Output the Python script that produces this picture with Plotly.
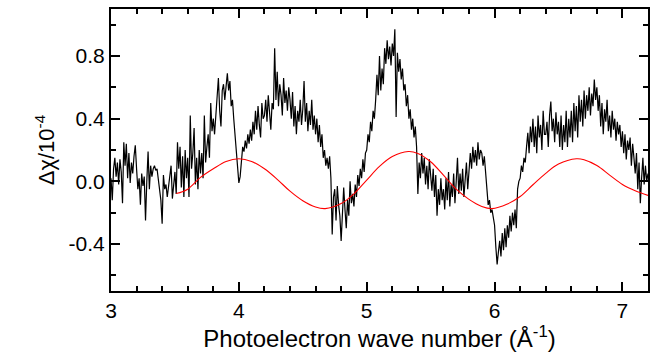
import numpy as np
import plotly.graph_objects as go

# Measured difference signal (black), sampled every 0.01 1/A from 3.00 to 7.20
k_start, k_stop = 3.0, 7.2
measured_dchi = [
    0.02, -0.12, 0.08, 0.15, 0.03, 0.12, -0.02, 0.14, 0.06, -0.14,   # 3.0
    0.25, 0.10, 0.24, 0.02, 0.18, -0.01, 0.12, 0.05, 0.16, 0.23,     # 3.1
    0.08, -0.05, 0.02, -0.15, 0.05, -0.03, 0.03, -0.25, 0.0, 0.19,   # 3.2
    -0.05, 0.10, 0.03, 0.08, 0.10, 0.07, 0.08, 0.02, -0.03, -0.12,   # 3.3
    -0.27, 0.04, -0.05, -0.02, -0.10, -0.04, 0.02, 0.10, -0.11, 0.0, # 3.4
    0.06, -0.08, 0.25, 0.08, 0.22, -0.04, 0.16, -0.10, 0.20, 0.02,   # 3.5
    0.15, -0.10, 0.42, 0.08, 0.18, 0.34, -0.02, 0.15, -0.05, 0.20,   # 3.6
    0.05, 0.18, 0.02, 0.42, 0.12, 0.22, 0.30, 0.15, 0.50, 0.32,      # 3.7
    0.40, 0.30, 0.42, 0.55, 0.66, 0.45, 0.35, 0.58, 0.62, 0.52,      # 3.8
    0.62, 0.69, 0.58, 0.64, 0.48, 0.52, 0.40, 0.30, 0.18, 0.05,      # 3.9
    -0.01, 0.03, 0.12, 0.22, 0.19, 0.26, 0.21, 0.30, 0.24, 0.33,     # 4.0
    0.26, 0.38, 0.30, 0.45, 0.33, 0.48, 0.36, 0.28, 0.50, 0.40,      # 4.1
    0.42, 0.52, 0.38, 0.55, 0.44, 0.33, 0.50, 0.46, 0.85, 0.52,      # 4.2
    0.70, 0.48, 0.62, 0.55, 0.42, 0.66, 0.50, 0.58, 0.45, 0.60,      # 4.3
    0.52, 0.40, 0.57, 0.35, 0.48, 0.30, 0.45, 0.38, 0.52, 0.36,      # 4.4
    0.46, 0.64, 0.38, 0.50, 0.32, 0.45, 0.36, 0.52, 0.33, 0.42,      # 4.5
    0.30, 0.40, 0.25, 0.36, 0.22, 0.30, 0.15, 0.20, 0.10, 0.15,      # 4.6
    0.08, 0.16, 0.02, -0.34, -0.10, -0.05, -0.25, -0.03, -0.15, -0.22,  # 4.7
    -0.38, -0.20, -0.04, -0.18, -0.30, -0.12, -0.22, 0.0, -0.14, -0.08, # 4.8
    -0.16, -0.02, -0.10, 0.04, -0.03, 0.08, 0.02, 0.14, 0.06, 0.18,  # 4.9
    0.20, 0.30, 0.25, 0.38, 0.32, 0.45, 0.40, 0.52, 0.68, 0.55,      # 5.0
    0.80, 0.58, 0.72, 0.62, 0.85, 0.75, 0.90, 0.78, 0.86, 0.74,      # 5.1
    0.88, 0.80, 0.97, 0.41, 0.82, 0.70, 0.78, 0.65, 0.72, 0.58,      # 5.2
    0.62, 0.48, 0.55, 0.40, 0.46, 0.33, 0.40, 0.28, 0.35, 0.22,      # 5.3
    -0.08, 0.12, 0.02, 0.18, 0.05, 0.15, -0.02, 0.10, -0.05, 0.14,   # 5.4
    0.02, -0.06, 0.08, -0.10, 0.04, -0.22, -0.05, -0.15, 0.02, -0.12,  # 5.5
    -0.05, -0.18, 0.02, -0.12, 0.06, -0.16, -0.02, -0.10, 0.05, -0.14, # 5.6
    0.0, 0.15, -0.08, 0.05, -0.06, 0.08, -0.10, 0.02, 0.12, -0.05,   # 5.7
    0.05, 0.18, 0.08, 0.22, 0.12, 0.20, 0.10, 0.25, 0.14, 0.20,      # 5.8
    0.18, 0.10, 0.16, 0.05, -0.08, -0.15, -0.12, -0.20, -0.18, -0.25,  # 5.9
    -0.28, -0.42, -0.53, -0.45, -0.38, -0.48, -0.33, -0.44, -0.30, -0.42,  # 6.0
    -0.28, -0.36, -0.22, -0.32, -0.20, -0.28, -0.18, -0.30, -0.05, 0.0,    # 6.1
    0.02, 0.10, 0.06, 0.15, 0.12, 0.22, 0.31, 0.18, 0.35, 0.25,      # 6.2
    0.40, 0.22, 0.35, 0.18, 0.42, 0.28, 0.36, 0.20, 0.45, 0.30,      # 6.3
    0.30, 0.38, 0.22, 0.42, 0.51, 0.32, 0.40, 0.25, 0.44, 0.30,      # 6.4
    0.38, 0.22, 0.42, 0.20, 0.36, 0.25, 0.45, 0.22, 0.40, 0.28,      # 6.5
    0.45, 0.25, 0.50, 0.32, 0.48, 0.28, 0.55, 0.38, 0.52, 0.35,      # 6.6
    0.58, 0.40, 0.55, 0.45, 0.60, 0.42, 0.56, 0.48, 0.65, 0.52,      # 6.7
    0.60, 0.45, 0.55, 0.35, 0.50, 0.30, 0.46, 0.38, 0.52, 0.32,      # 6.8
    0.42, 0.28, 0.45, 0.33, 0.40, 0.26, 0.38, 0.30, 0.36, 0.22,      # 6.9
    0.32, 0.18, 0.30, 0.14, 0.26, 0.20, 0.28, 0.10, 0.24, 0.15,      # 7.0
    0.05, 0.18, -0.05, 0.12, -0.14, 0.02, 0.15, -0.02, 0.10, 0.0,    # 7.1
    0.05,                                                            # 7.2
]
measured_k = np.linspace(k_start, k_stop, len(measured_dchi))

# Model curve (red)
model_k = [3.51, 3.6, 3.7, 3.8, 3.9, 4.0, 4.1, 4.2, 4.3, 4.4, 4.5, 4.6, 4.675,
           4.8, 4.9, 5.0, 5.1, 5.2, 5.325, 5.4, 5.5, 5.6, 5.7, 5.8, 5.9, 5.98,
           6.1, 6.2, 6.3, 6.4, 6.5, 6.64, 6.7, 6.8, 6.9, 7.0, 7.1, 7.2]
model_dchi = [-0.078, -0.05, 0.025, 0.08, 0.127, 0.144, 0.127, 0.080, 0.013,
              -0.063, -0.124, -0.164, -0.174, -0.142, -0.08, 0.008, 0.095,
              0.158, 0.19, 0.178, 0.125, 0.04, -0.05, -0.115, -0.16, -0.174,
              -0.145, -0.097, -0.022, 0.051, 0.11, 0.144, 0.138, 0.101, 0.04,
              -0.02, -0.06, -0.09]

x_tickvals = [3, 4, 5, 6, 7]
x_ticktext = ["3", "4", "5", "6", "7"]
y_tickvals = [-0.4, 0.0, 0.4, 0.8]
y_ticktext = ["-0.4", "0.0", "0.4", "0.8"]

FONT = "Liberation Sans, Arial, sans-serif"

fig = go.Figure()
fig.add_trace(go.Scatter(x=measured_k, y=measured_dchi, mode="lines",
                         line=dict(color="black", width=1.2), showlegend=False))
fig.add_trace(go.Scatter(x=model_k, y=model_dchi, mode="lines",
                         line=dict(color="#ff0000", width=1.1, shape="spline", smoothing=1.0),
                         showlegend=False))

fig.update_xaxes(range=[3, 7.2], showline=True, linecolor="black", linewidth=2,
                 mirror="ticks", ticks="inside", ticklen=9, tickwidth=2, tickcolor="black",
                 tickvals=x_tickvals, ticktext=x_ticktext, layer="above traces",
                 minor=dict(ticks="inside", ticklen=5, tickwidth=1.8, dtick=0.2, tick0=3,
                            tickcolor="black"),
                 showgrid=False, zeroline=False,
                 tickfont=dict(family=FONT, size=21, color="black"),
                 title=dict(text="Photoelectron wave number (Å<sup>-1</sup>)",
                            font=dict(family=FONT, size=24, color="black"), standoff=6))
fig.update_yaxes(range=[-0.7, 1.1], showline=True, linecolor="black", linewidth=2,
                 mirror="ticks", ticks="inside", ticklen=9, tickwidth=2, tickcolor="black",
                 tickvals=y_tickvals, ticktext=y_ticktext, layer="above traces",
                 minor=dict(ticks="inside", ticklen=5, tickwidth=1.8, dtick=0.2, tick0=-0.6,
                            tickcolor="black"),
                 showgrid=False, zeroline=False,
                 tickfont=dict(family=FONT, size=21, color="black"),
                 title=dict(text="Δχ/10<sup>-4</sup>",
                            font=dict(family=FONT, size=22, color="black"), standoff=8))

fig.update_layout(width=657, height=360, plot_bgcolor="white", paper_bgcolor="white",
                  margin=dict(l=111, r=7, t=8, b=69))

fig.write_html("out.html", config={"displayModeBar": False},
               post_script="document.body.style.margin='0';document.body.style.padding='0';")
